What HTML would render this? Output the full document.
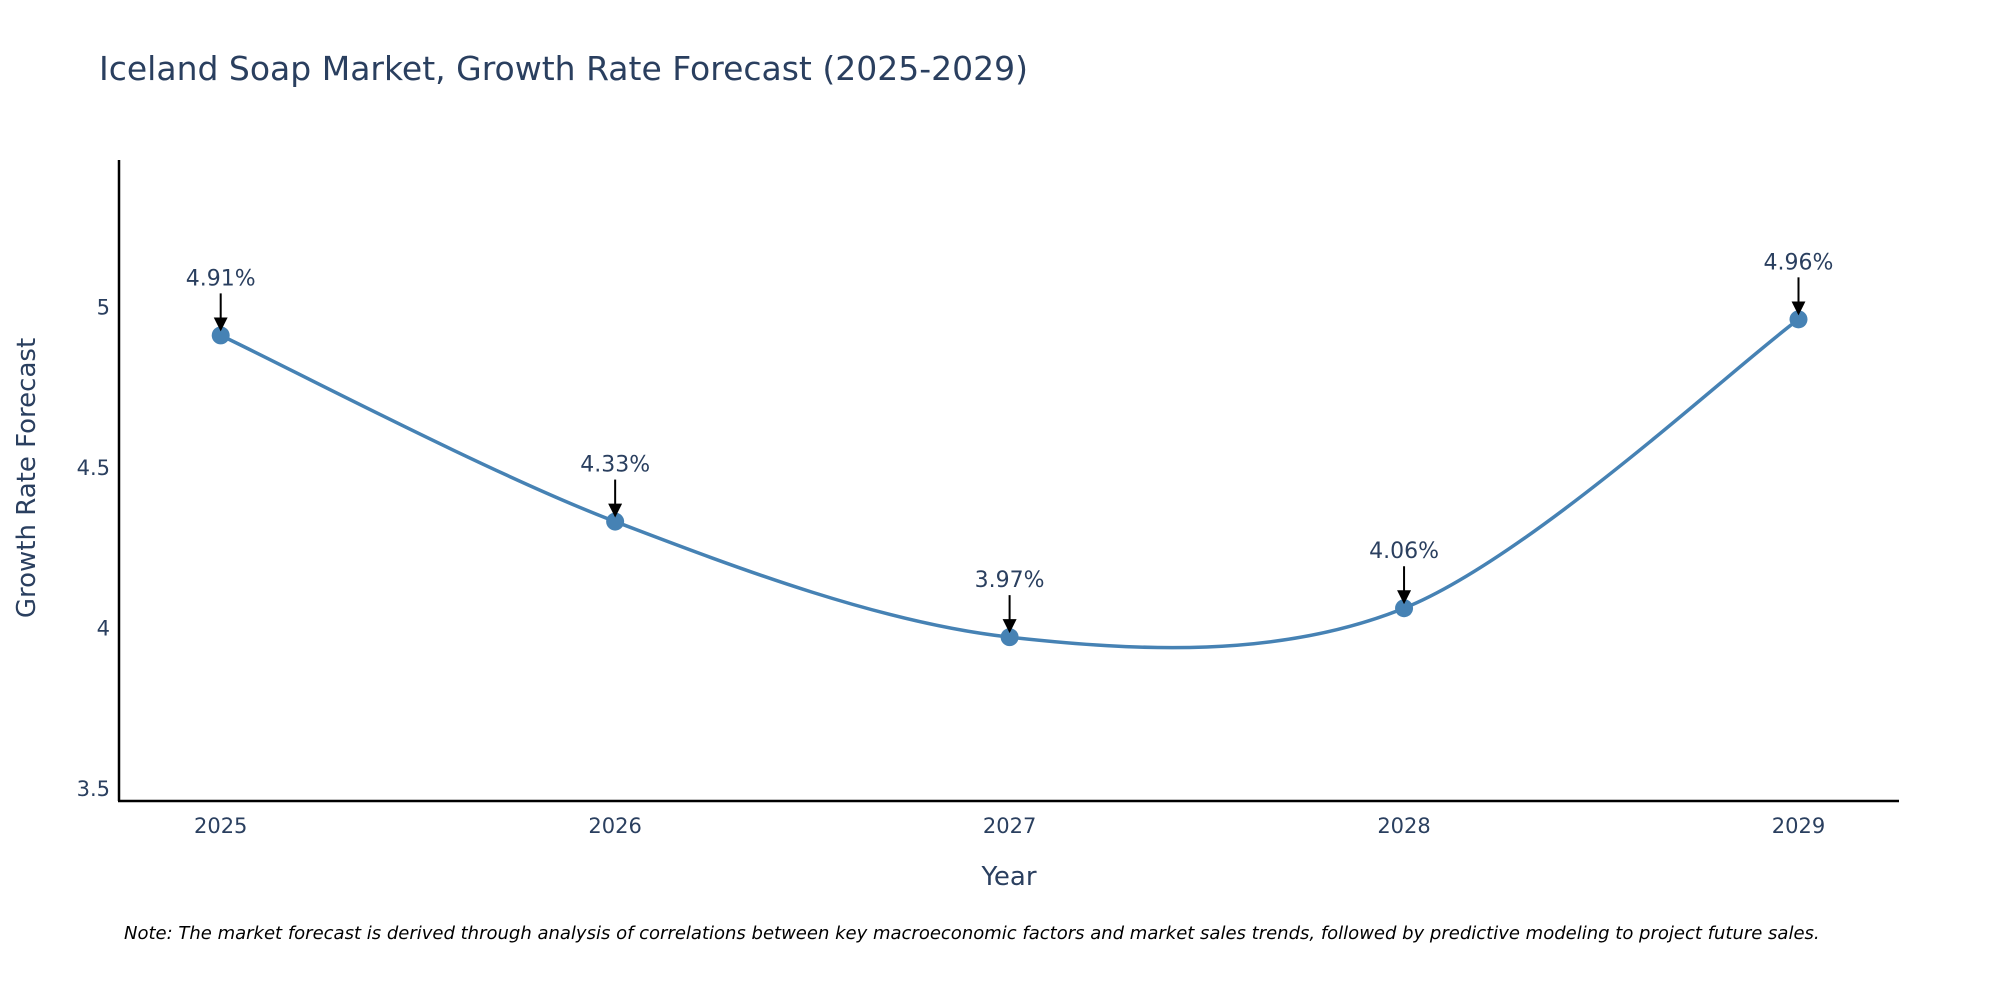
<!DOCTYPE html>
<html><head><meta charset="utf-8"><style>
body{margin:0;background:#fff;}
svg{display:block;font-family:"DejaVu Sans","Liberation Sans",sans-serif;}
</style></head><body>
<svg id="chart" width="2000" height="1000">
<text x="99" y="80" font-size="33" fill="#2a3f5f">Iceland Soap Market, Growth Rate Forecast (2025-2029)</text>
<line x1="119" y1="160" x2="119" y2="801" stroke="#000" stroke-width="2.5"/>
<line x1="118" y1="801" x2="1899" y2="801" stroke="#000" stroke-width="2.5"/>
<g id="yticks"></g><g id="xticks"></g>
<path id="line" fill="none" stroke="#4682b4" stroke-width="3.5"/>
<g id="points"></g><g id="annots"></g>
<text x="1009" y="885" font-size="26" fill="#2a3f5f" text-anchor="middle">Year</text>
<text transform="translate(35,478) rotate(-90)" font-size="26" fill="#2a3f5f" text-anchor="middle">Growth Rate Forecast</text>
<text x="124" y="939" font-size="18" font-style="italic" fill="#000">Note: The market forecast is derived through analysis of correlations between key macroeconomic factors and market sales trends, followed by predictive modeling to project future sales.</text>
<defs><marker id="ah" markerWidth="14" markerHeight="14" refX="12" refY="7" orient="auto" markerUnits="userSpaceOnUse"><path d="M0,0 L14,7 L0,14 z" fill="#000"/></marker></defs>
</svg>
<script>
const years=[2025,2026,2027,2028,2029];
const values=[4.91,4.33,3.97,4.06,4.96];
const labels=["4.91%","4.33%","3.97%","4.06%","4.96%"];
const yTicks=[3.5,4,4.5,5];
const NS="http://www.w3.org/2000/svg";
const xS=v=>220.7+(v-2025)*394.45;
const yS=v=>627.5-(v-4)*321;
function mk(tag,attrs,parent){const e=document.createElementNS(NS,tag);for(const k in attrs)e.setAttribute(k,attrs[k]);parent.appendChild(e);return e;}
const yt=document.getElementById('yticks');
yTicks.forEach(t=>{const e=mk('text',{x:110,y:yS(t)+8,'font-size':21,fill:'#2a3f5f','text-anchor':'end'},yt);e.textContent=String(t);

});
const xt=document.getElementById('xticks');
years.forEach(y=>{const e=mk('text',{x:xS(y),y:833,'font-size':21,fill:'#2a3f5f','text-anchor':'middle'},xt);e.textContent=String(y);

});
const P=years.map((y,i)=>[xS(y),yS(values[i])]);
let d=`M${P[0][0]},${P[0][1]}`;const t=0.16;
for(let i=0;i<P.length-1;i++){const p0=P[i-1]||P[i],p1=P[i],p2=P[i+1],p3=P[i+2]||P[i+1];
const c1=[p1[0]+(p2[0]-p0[0])*t,p1[1]+(p2[1]-p0[1])*t],c2=[p2[0]-(p3[0]-p1[0])*t,p2[1]-(p3[1]-p1[1])*t];
d+=` C${c1[0]},${c1[1]} ${c2[0]},${c2[1]} ${p2[0]},${p2[1]}`;}
document.getElementById('line').setAttribute('d',d);
const pg=document.getElementById('points'),ag=document.getElementById('annots');
P.forEach((p,i)=>{const c=mk('circle',{cx:p[0],cy:p[1],r:9,fill:'#4682b4'},pg);


const l=mk('line',{x1:p[0],y1:p[1]-42,x2:p[0],y2:p[1]-6,stroke:'#000','stroke-width':2,'marker-end':'url(#ah)'},ag);


const tx=mk('text',{x:p[0],y:p[1]-50,'font-size':22,fill:'#2a3f5f','text-anchor':'middle'},ag);tx.textContent=labels[i];

});
</script>
</body></html>
